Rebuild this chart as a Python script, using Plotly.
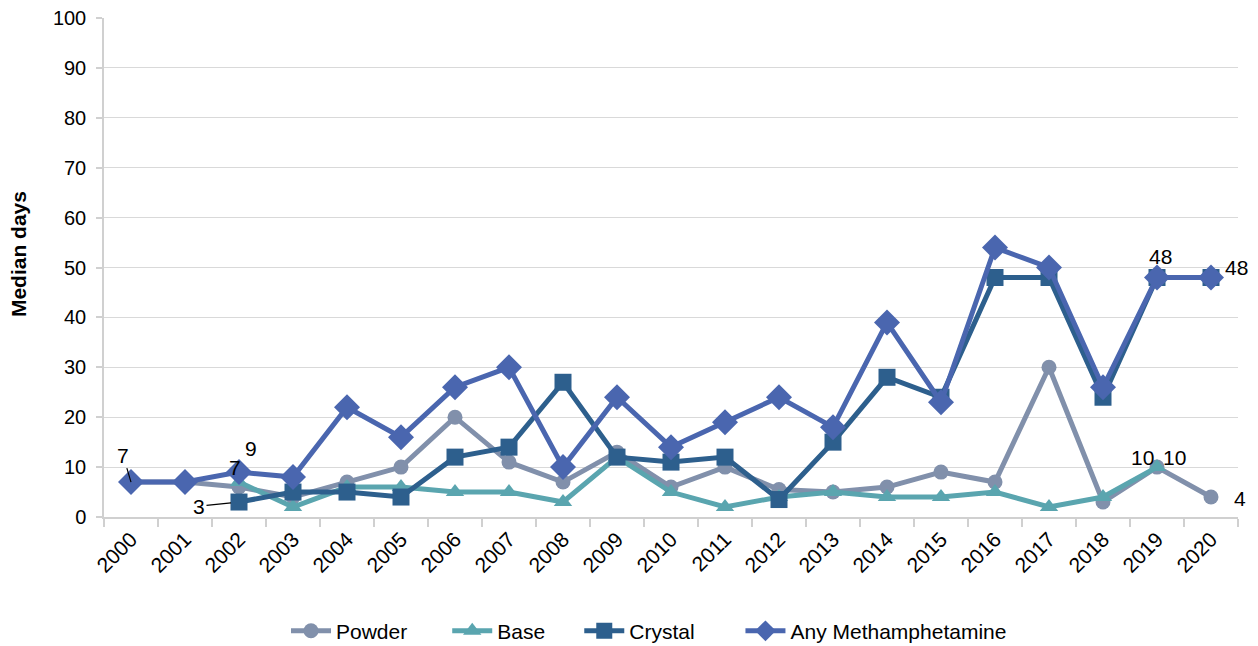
import plotly.graph_objects as go

years = [str(y) for y in range(2000, 2021)]

powder = [7, 7, 6, 4, 7, 10, 20, 11, 7, 13, 6, 10, 5.5, 5, 6, 9, 7, 30, 3, 10, 4]
base = [None, None, 7, 2, 6, 6, 5, 5, 3, 12, 5, 2, 4, 5, 4, 4, 5, 2, 4, 10, None]
crystal = [None, None, 3, 5, 5, 4, 12, 14, 27, 12, 11, 12, 3.5, 15, 28, 24, 48, 48, 24, 48, 48]
any_meth = [7, 7, 9, 8, 22, 16, 26, 30, 10, 24, 14, 19, 24, 18, 39, 23, 54, 50, 26, 48, 48]

y_ticks = list(range(0, 101, 10))

FONT = "Liberation Sans, Arial, sans-serif"
NBSP = "\u00a0"

# (legend name, values, colour, marker, marker size, trailing legend padding)
series = [
    ("Powder", powder, "#8190AB", "circle", 15, 6),
    ("Base", base, "#5AA5AF", "triangle-up", 16, 5),
    ("Crystal", crystal, "#2D5F8D", "square", 17, 7),
    ("Any Methamphetamine", any_meth, "#4A66AF", "diamond", 20, 0),
]

fig = go.Figure()
for name, vals, color, symbol, size, pad in series:
    fig.add_trace(go.Scatter(
        x=years, y=vals, name=name + NBSP * pad, mode="lines+markers",
        line=dict(color=color, width=5),
        marker=dict(symbol=symbol, size=size, color=color),
        connectgaps=False,
    ))


def fmt(v):
    return f"{v:g}"


# value labels on the first / last points of the series
def label(vals, i, dx, dy, arrow=False, standoff=0):
    d = dict(xref="x", yref="y", x=i, y=vals[i], text=fmt(vals[i]),
             font=dict(family=FONT, size=21, color="#000000"))
    if arrow:
        d.update(showarrow=True, ax=dx, ay=dy, arrowhead=0, arrowwidth=1.2,
                 arrowcolor="#000000", standoff=standoff)
    else:
        d.update(showarrow=False, xshift=dx, yshift=-dy)
    return d


annotations = [
    label(any_meth, 0, -8, -27, arrow=True, standoff=0),
    label(any_meth, 2, 12, -24),
    label(base, 2, -4, -15),
    label(crystal, 2, -40, 4, arrow=True, standoff=8),
    label(any_meth, 19, 3, -21),
    label(crystal, 20, 25, -10),
    label(base, 19, -15, -10),
    label(powder, 19, 17, -10),
    label(powder, 20, 29, 1),
    # y-axis title
    dict(xref="paper", yref="paper", x=-0.0758, y=0.527, xanchor="center",
         yanchor="middle", textangle=-90, showarrow=False,
         text="<b>Median days</b>",
         font=dict(family=FONT, size=21, color="#000000")),
]

fig.update_layout(
    width=1258, height=646,
    margin=dict(l=104, r=20, t=18, b=129, autoexpand=False),
    paper_bgcolor="#FFFFFF", plot_bgcolor="#FFFFFF",
    font=dict(family=FONT, size=20, color="#000000"),
    showlegend=True,
    legend=dict(orientation="h", x=0.1605, xanchor="left",
                yref="container", y=0.023, yanchor="middle",
                font=dict(family=FONT, size=21, color="#000000"),
                itemwidth=40, traceorder="normal"),
    annotations=annotations,
)

fig.update_xaxes(
    type="category", tickson="boundaries", range=[-0.5, 20.5],
    automargin=False,
    showgrid=False, showline=True, linecolor="#D0D0D0", linewidth=1.5,
    ticks="outside", ticklen=8, tickcolor="#D0D0D0", tickwidth=1.5,
    tickangle=-45, tickfont=dict(family=FONT, size=21, color="#000000"),
)
fig.update_yaxes(
    range=[0, 100], tickvals=y_ticks, ticktext=[str(v) for v in y_ticks],
    automargin=False,
    showgrid=True, gridcolor="#D9D9D9", gridwidth=1.2,
    showline=True, linecolor="#D0D0D0", linewidth=1.5,
    ticks="outside", ticklen=6, tickcolor="#D0D0D0", tickwidth=1.5,
    ticklabelstandoff=6, zeroline=False,
    tickfont=dict(family=FONT, size=20, color="#000000"),
)

fig.write_html("out.html")
